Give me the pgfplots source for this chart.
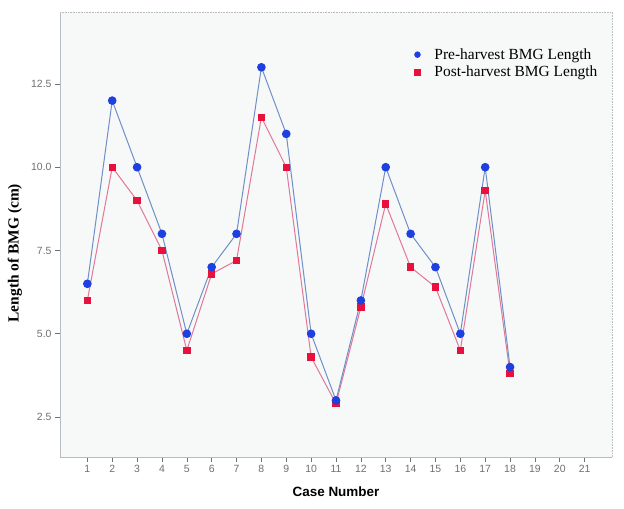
\documentclass[border=0pt]{standalone}
\usepackage{fontspec}
\setmainfont{Liberation Serif}
\setsansfont{Liberation Sans}
\usepackage{pgfplots}
\pgfplotsset{compat=1.18}
\definecolor{preline}{HTML}{6F8FC8}
\definecolor{premark}{HTML}{1E40E0}
\definecolor{postline}{HTML}{E07898}
\definecolor{postmark}{HTML}{E8103C}
\definecolor{bgc}{HTML}{F7F8F8}
\definecolor{axc}{HTML}{B8BCC0}
\definecolor{tickc}{HTML}{707070}
\begin{document}
\begin{tikzpicture}
\path[use as bounding box, fill=white] (0,0) rectangle (624bp,509bp);
\begin{axis}[
  at={(60bp,52bp)}, anchor=south west,
  scale only axis, width=552bp, height=445bp,
  xmin=-0.1, xmax=22.1, ymin=1.3, ymax=14.66,
  axis x line*=bottom, axis y line*=left,
  axis line style={axc, line width=0.8pt},
  axis background/.style={fill=bgc},
  xtick={1,...,21}, ytick={2.5,5,7.5,10,12.5},
  tick align=outside, major tick length=5bp,
  tick style={tickc, line width=0.6pt},
  /pgf/number format/assume math mode=true,
  yticklabel style={/pgf/number format/fixed, /pgf/number format/fixed zerofill, /pgf/number format/precision=1, font=\sffamily\fontsize{10.5}{12}\selectfont, text=tickc},
  xticklabel style={font=\sffamily\fontsize{10.5}{12}\selectfont, text=tickc},
  every axis x label/.style={at={(axis description cs:0.5,-0.0787)}, anchor=center},
  every axis y label/.style={at={(axis description cs:-0.0815,0.458)}, anchor=center, rotate=90},
  xlabel={\sffamily\bfseries\fontsize{13.5}{15}\selectfont Case Number},
  ylabel={\bfseries\fontsize{15.5}{17}\selectfont Length of BMG (cm)},
  legend style={at={(0.64,0.925)}, anchor=north west, draw=none, fill=none,
    font=\fontsize{15.5}{19}\selectfont, row sep=1pt, inner sep=1pt,
    /tikz/every odd column/.append style={column sep=12bp}},
  legend image code/.code={\draw[#1] plot coordinates {(0.2cm,0cm)};},
  legend cell align=left,
  clip=false,
]
\draw[axc, densely dotted, line width=0.6pt] (rel axis cs:0,1) -- (rel axis cs:1,1) -- (rel axis cs:1,0);
\addlegendimage{only marks, mark=*, mark size=3bp, color=premark}
\addlegendentry{Pre-harvest BMG Length}
\addlegendimage{only marks, mark=square*, mark size=3bp, color=postmark}
\addlegendentry{Post-harvest BMG Length}
\addplot[forget plot, postline, line width=1pt, mark=square*, mark size=3.2bp, mark options={postmark, draw=postmark, fill=postmark}] coordinates {
(1,6.0)(2,10.0)(3,9.0)(4,7.5)(5,4.5)(6,6.8)(7,7.2)(8,11.5)(9,10.0)(10,4.3)(11,2.9)(12,5.8)(13,8.9)(14,7.0)(15,6.4)(16,4.5)(17,9.3)(18,3.8)};
\addplot[forget plot, preline, line width=1pt, mark=*, mark size=3.8bp, mark options={premark, draw=premark, fill=premark}] coordinates {
(1,6.5)(2,12.0)(3,10.0)(4,8.0)(5,5.0)(6,7.0)(7,8.0)(8,13.0)(9,11.0)(10,5.0)(11,3.0)(12,6.0)(13,10.0)(14,8.0)(15,7.0)(16,5.0)(17,10.0)(18,4.0)};
\end{axis}
\end{tikzpicture}
\end{document}
